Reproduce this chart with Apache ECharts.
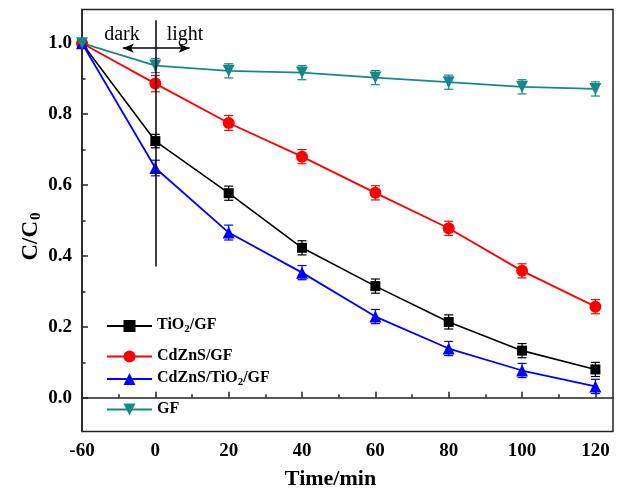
<!DOCTYPE html>
<html>
<head>
<meta charset="utf-8">
<script src="https://cdn.jsdelivr.net/npm/echarts@6/dist/echarts.min.js"></script>
<style>
  html, body { margin: 0; padding: 0; background: #fff; }
  #chart { width: 620px; height: 491px; }
</style>
</head>
<body>
<div id="chart"></div>
<script>
// Sampling times (min); the dark stage (-60 to 0) gets one equal step on the axis
const timeLabels = ['-60', '0', '20', '40', '60', '80', '100', '120'];

// C/C0 for each sample
const tio2GF      = [1.000, 0.724, 0.577, 0.423, 0.315, 0.214, 0.133, 0.080];
const cdznsGF     = [1.000, 0.886, 0.775, 0.680, 0.578, 0.478, 0.358, 0.257];
const cdznsTio2GF = [1.000, 0.648, 0.466, 0.353, 0.229, 0.139, 0.077, 0.032];
const gfOnly      = [1.000, 0.937, 0.922, 0.917, 0.903, 0.890, 0.877, 0.871];

// Error-bar half widths
const tio2GFErr      = [0.012, 0.019, 0.020, 0.020, 0.020, 0.020, 0.020, 0.020];
const cdznsGFErr     = [0.012, 0.023, 0.021, 0.020, 0.020, 0.020, 0.020, 0.020];
const cdznsTio2GFErr = [0.012, 0.022, 0.021, 0.020, 0.020, 0.020, 0.020, 0.020];
const gfOnlyErr      = [0.012, 0.020, 0.020, 0.020, 0.020, 0.020, 0.020, 0.020];

// Axis ticks
const yMajor = [0, 0.2, 0.4, 0.6, 0.8, 1.0];
const yMinor = [0.1, 0.3, 0.5, 0.7, 0.9];
const xMajor = timeLabels.map((_, i) => i);
const xMinor = timeLabels.slice(1).map((_, i) => i + 0.5);

const SERIF = '"Liberation Serif", "Times New Roman", serif';

const seriesDefs = [
  { name: 'TiO2/GF',       values: tio2GF,      err: tio2GFErr,      color: '#000000', symbol: 'rect',     size: 10, rotate: 0,   label: '{m|TiO}{s|2}{m|/GF}' },
  { name: 'CdZnS/GF',      values: cdznsGF,     err: cdznsGFErr,     color: '#ff0000', symbol: 'circle',   size: 12, rotate: 0,   label: '{m|CdZnS/GF}' },
  { name: 'CdZnS/TiO2/GF', values: cdznsTio2GF, err: cdznsTio2GFErr, color: '#0000ff', symbol: 'triangle', size: 12, rotate: 0,   label: '{m|CdZnS/TiO}{s|2}{m|/GF}' },
  { name: 'GF',            values: gfOnly,      err: gfOnlyErr,      color: '#14898a', symbol: 'triangle', size: 12, rotate: 180, label: '{m|GF}' }
];
// Legend row tops (rows with a subscript sit a little higher)
const legendTops = [313, 347.5, 366, 400.5];

function errorBars(def) {
  return {
    type: 'custom',
    name: def.name + ' err',
    xAxisIndex: 0, yAxisIndex: 0,
    silent: true,
    data: def.values.map((v, i) => [i, v, def.err[i]]),
    renderItem: function (params, api) {
      const x = api.value(0), y = api.value(1), e = api.value(2);
      const hi = api.coord([x, y + e]);
      const lo = api.coord([x, y - e]);
      const cap = 4.5;
      const style = { stroke: def.color, lineWidth: 1.2 };
      return {
        type: 'group',
        children: [
          { type: 'line', shape: { x1: hi[0], y1: hi[1], x2: lo[0], y2: lo[1] }, style: style },
          { type: 'line', shape: { x1: hi[0] - cap, y1: hi[1], x2: hi[0] + cap, y2: hi[1] }, style: style },
          { type: 'line', shape: { x1: lo[0] - cap, y1: lo[1], x2: lo[0] + cap, y2: lo[1] }, style: style }
        ]
      };
    },
    z: 3
  };
}

const series = [];
seriesDefs.forEach(def => series.push(errorBars(def)));
seriesDefs.forEach(def => {
  series.push({
    type: 'line',
    name: def.name,
    xAxisIndex: 0, yAxisIndex: 0,
    data: def.values.map((v, i) => [i, v]),
    symbol: def.symbol,
    symbolSize: def.size,
    symbolRotate: def.rotate,
    showAllSymbol: true,
    lineStyle: { color: def.color, width: def.color === '#000000' ? 1.6 : 1.8 },
    itemStyle: { color: def.color },
    emphasis: { disabled: true },
    z: 4
  });
});

// Dark / light boundary marker, arrow and stage labels
series.push({
  type: 'line',
  name: 'stage',
  xAxisIndex: 0, yAxisIndex: 0,
  data: [],
  silent: true,
  markLine: {
    silent: true,
    animation: false,
    label: { show: false },
    data: [
      [
        { coord: [1, 1.065], symbol: 'none' },
        { coord: [1, 0.37], symbol: 'none' }
      ],
      [
        { coord: [0.557, 0.986], symbol: 'arrow', symbolSize: [7, 11] },
        { coord: [1.467, 0.986], symbol: 'arrow', symbolSize: [7, 11] }
      ]
    ],
    lineStyle: { color: '#000', width: 1.5, type: 'solid' }
  },
  markPoint: {
    silent: true,
    animation: false,
    symbol: 'circle',
    symbolSize: 0,
    label: {
      show: true,
      position: 'inside',
      color: '#000',
      fontFamily: SERIF,
      fontSize: 20,
      formatter: p => p.name
    },
    data: [
      { name: 'dark', coord: [0.545, 1.024] },
      { name: 'light', coord: [1.405, 1.024] }
    ]
  }
});

const legends = seriesDefs.map((def, i) => ({
  data: [def.name],
  left: 106,
  top: legendTops[i],
  padding: 0,
  itemWidth: 45,
  itemHeight: 15,
  itemGap: 0,
  selectedMode: false,
  formatter: () => def.label,
  textStyle: {
    rich: {
      m: { fontFamily: SERIF, fontWeight: 'bold', fontSize: 16, color: '#000', lineHeight: 18, verticalAlign: 'top' },
      s: { fontFamily: SERIF, fontWeight: 'bold', fontSize: 11, color: '#000', lineHeight: 11, padding: [11, 0, 0, 0], verticalAlign: 'bottom' }
    }
  }
}));

const chart = echarts.init(document.getElementById('chart'), null, { renderer: 'canvas' });
chart.setOption({
  animation: false,
  backgroundColor: '#ffffff',
  grid: {
    left: 82, right: 7, top: 9.5, bottom: 59.5,
    outerBoundsMode: 'none',
    containLabel: false,
    show: true, borderColor: '#222', borderWidth: 1.5, backgroundColor: 'transparent'
  },
  legend: legends,
  xAxis: [
    {
      type: 'value', min: 0, max: 7.24,
      axisLine: { show: true, lineStyle: { color: '#222', width: 1.5 } },
      axisTick: { show: true, inside: true, length: 6, customValues: xMajor, lineStyle: { color: '#222', width: 1.5 } },
      axisLabel: {
        customValues: xMajor, margin: 10,
        formatter: v => timeLabels[Math.round(v)],
        fontFamily: SERIF, fontWeight: 'bold', fontSize: 19, color: '#000'
      },
      splitLine: { show: false },
      name: '{t|Time/min}', nameLocation: 'middle', nameGap: 37,
      nameMoveOverlap: false,
      nameTextStyle: {
        rich: {
          t: { fontFamily: SERIF, fontWeight: 'bold', fontSize: 22, color: '#000', padding: [0, 34, 0, 0] }
        }
      }
    },
    {
      type: 'value', min: 0, max: 7.24, position: 'bottom',
      axisLine: { show: false },
      axisTick: { show: true, inside: true, length: 3.5, customValues: xMinor, lineStyle: { color: '#222', width: 1.5 } },
      axisLabel: { show: false },
      splitLine: { show: false }
    }
  ],
  yAxis: [
    {
      type: 'value', min: -0.095, max: 1.095,
      axisLine: { show: true, lineStyle: { color: '#222', width: 1.5 } },
      axisTick: { show: true, inside: true, length: 6, customValues: yMajor, lineStyle: { color: '#222', width: 1.5 } },
      axisLabel: {
        customValues: yMajor, margin: 10,
        formatter: v => v.toFixed(1),
        fontFamily: SERIF, fontWeight: 'bold', fontSize: 19, color: '#000'
      },
      splitLine: { show: false },
      name: '{m|C/C}{s|0}', nameLocation: 'middle', nameGap: 38, nameRotate: 90,
      nameMoveOverlap: false,
      nameTextStyle: {
        rich: {
          m: { fontFamily: SERIF, fontWeight: 'bold', fontSize: 23, color: '#000', lineHeight: 24, verticalAlign: 'top' },
          s: { fontFamily: SERIF, fontWeight: 'bold', fontSize: 15, color: '#000', lineHeight: 15, padding: [11, 32, 0, 1], verticalAlign: 'bottom' }
        }
      }
    },
    {
      type: 'value', min: -0.095, max: 1.095, position: 'left',
      axisLine: { show: false },
      axisTick: { show: true, inside: true, length: 3.5, customValues: yMinor, lineStyle: { color: '#222', width: 1.5 } },
      axisLabel: { show: false },
      splitLine: { show: false }
    }
  ],
  series: series
});
</script>
</body>
</html>
